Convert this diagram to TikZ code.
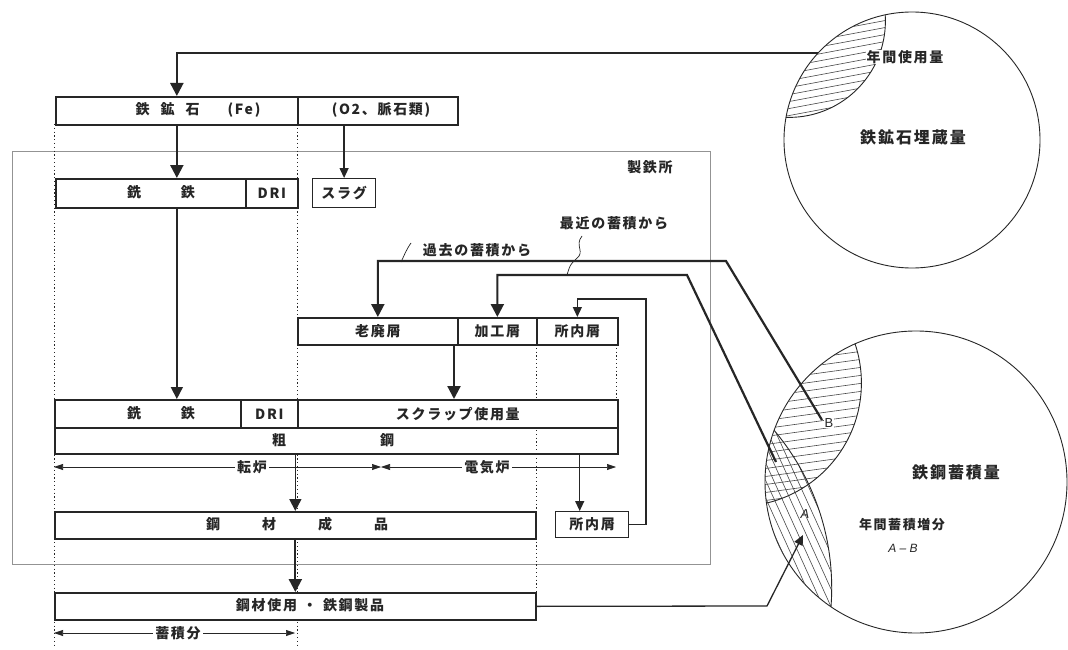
\documentclass[tikz,border=0pt]{standalone}
\usepackage{fontspec}
\newfontfamily\jp{Noto Sans CJK JP}[LetterSpace=12]
\newfontfamily\lsans{Liberation Sans}
\usetikzlibrary{arrows.meta,calc}
\definecolor{ink}{gray}{0.15}
\begin{document}
\begin{tikzpicture}[x=1pt,y=-1pt,
  font=\jp\bfseries\fontsize{14}{16}\selectfont,
  box/.style={draw=ink, line width=1.7pt, fill=white, inner sep=0pt, anchor=north west, text=ink},
  thinbox/.style={box, line width=1.2pt},
  guide/.style={draw=ink, line width=0.9pt, dash pattern=on 1.2pt off 2.6pt},
  frame/.style={draw=ink!50, line width=0.8pt},
  bigarrow/.style={draw=ink, line width=2.2pt, -{Triangle[width=13pt,length=13pt]}},
  medarrow/.style={draw=ink, line width=1.6pt, -{Triangle[width=12pt,length=12pt]}},
  midarrow/.style={draw=ink, line width=1.3pt, -{Triangle[width=9pt,length=10pt]}},
  dimline/.style={draw=ink, line width=0.6pt, -{Triangle[width=6pt,length=9pt]}},
  hatch/.style={draw=ink!85, line width=0.6pt},
  lbl/.style={inner sep=1pt, text=ink},
  wlbl/.style={lbl, fill=white, inner sep=2pt},
]
\fill[white] (0,0) rectangle (1068,650);
\useasboundingbox (0,0) rectangle (1068,650);

% plant frame
\draw[frame] (12,151) rectangle (710,564);
\node[lbl] (plant) at (650,167) {製鉄所};

% guide lines
\draw[guide] (54,124) -- (54,646);
\draw[guide] (297,124) -- (297,646);
\draw[guide] (536,344) -- (536,592);
\draw[guide] (616,344) -- (616,399);

% ---- boxes ----
\node[box, minimum width=242pt, minimum height=28pt] (oreFe) at (55,96) {};
\node[box, minimum width=160pt, minimum height=28pt] (oreO2) at (297,96) {};
\node[lbl] (tOreFe) at (198,110) {鉄\hspace{11pt}鉱\hspace{11pt}石\hspace{28pt}(Fe)};
\node[lbl] (tOreO2) at (381,110) {(O2、脈石類)};

\node[box, minimum width=190pt, minimum height=29pt] (pig) at (55,178) {};
\node[box, minimum width=52pt, minimum height=29pt] (dri) at (245,178) {DRI};
\node[thinbox, minimum width=63pt, minimum height=29pt] (slag) at (312,178) {スラグ};
\node[lbl] (tPig) at (161,192.5) {銑\hspace{40pt}鉄};

\node[box, minimum width=160pt, minimum height=27pt] (old) at (297,317) {老廃屑};
\node[box, minimum width=79pt, minimum height=27pt] (proc) at (457,317) {加工屑};
\node[box, minimum width=81pt, minimum height=27pt] (inh) at (536,317) {所内屑};

\node[box, minimum width=187pt, minimum height=28pt] (pig2) at (54,399) {};
\node[box, minimum width=57pt, minimum height=28pt] (dri2) at (240,399) {DRI};
\node[box, minimum width=320pt, minimum height=28pt] (scrapuse) at (297,399) {スクラップ使用量};
\node[box, minimum width=563pt, minimum height=26pt] (crude) at (54,427) {};
\node[lbl] (tPig2) at (161,413) {銑\hspace{40pt}鉄};
\node[lbl] (tCrude) at (333,440) {粗\hspace{94pt}鋼};
\draw[guide] (536,430) -- (536,451);

\node[box, minimum width=481pt, minimum height=27pt] (steel) at (54,511) {};
\node[lbl] (tSteel) at (297,524.5) {鋼\hspace{42pt}材\hspace{42pt}成\hspace{42pt}品};
\node[thinbox, minimum width=73pt, minimum height=26pt] (inh2) at (555,511) {所内屑};

\node[box, minimum width=481pt, minimum height=27pt] (use) at (54,592) {};
\node[lbl] (tUse) at (310,605.5) {鋼材使用\hspace{6pt}・\hspace{6pt}鉄鋼製品};

% ---- dimension lines ----
\coordinate (dL) at (54,467);
\coordinate (dM) at (381,467);
\coordinate (dR) at (616,467);
\draw[dimline] (252,467) -- (dL);
\draw[dimline] (252,467) -- (dM);
\draw[dimline] (487,467) -- (dM);
\draw[dimline] (487,467) -- (dR);
\node[wlbl] (tConv) at (252,467) {転炉};
\node[wlbl] (tEaf) at (487,467) {電気炉};
\coordinate (sL) at (54,633);
\coordinate (sR) at (295,633);
\draw[dimline] (178,633) -- (sL);
\draw[dimline] (178,633) -- (sR);
\node[wlbl] (tAcc) at (178,633) {蓄積分};

% ---- circles ----
\node[circle, draw=ink, line width=0.9pt, minimum size=256pt, inner sep=0pt] (oreRes) at (912,140) {};
\node[circle, draw=ink, line width=0.9pt, minimum size=302pt, inner sep=0pt] (stock) at (916,482) {};

% small lens (annual use)
\begin{scope}
  \clip (912,140) circle[radius=128];
  \clip (789,21) circle[radius=96.4];
  \foreach \i in {-40,-33,...,200} { \draw[hatch] (760,\i) -- (920,\i-30); }
\end{scope}
\begin{scope}
  \clip (912,140) circle[radius=128];
  \draw[ink, line width=0.9pt] (789,21) circle[radius=96.4];
\end{scope}

% lens B
\begin{scope}
  \clip (916,482) circle[radius=151];
  \clip (738,383) circle[radius=123.4];
  \foreach \i in {320,328,...,560} { \draw[hatch] (740,\i) -- (900,\i-22); }
\end{scope}
% lens A
\begin{scope}
  \clip (916,482) circle[radius=151];
  \clip (587,588) circle[radius=244.7];
  \foreach \i in {560,568,...,880} { \draw[hatch] (\i,380) -- (\i+110,622); }
\end{scope}
\begin{scope}
  \clip (916,482) circle[radius=151];
  \draw[ink, line width=0.9pt] (738,383) circle[radius=123.4];
  \draw[ink, line width=0.9pt] (587,588) circle[radius=244.7];
\end{scope}

\node[lbl, fill=white, inner sep=0.5pt] (tAnnUse) at (905,57) {年間使用量};
\node[lbl, font=\jp\bfseries\fontsize{16}{18}\selectfont] (tOreRes) at (913,137) {鉄鉱石埋蔵量};
\node[lbl, font=\jp\bfseries\fontsize{16}{18}\selectfont] (tStock) at (956,472) {鉄鋼蓄積量};
\node[lbl, font=\jp\bfseries\fontsize{13}{15}\selectfont] (tInc) at (902,525) {年間蓄積増分};
\node[lbl, font=\lsans\itshape\fontsize{12}{14}\selectfont] (tAB) at (903,548) {A – B};
\node[lbl, fill=white, inner sep=0.5pt, font=\lsans\fontsize{13}{15}\selectfont] (tB) at (829,423) {B};
\node[lbl, font=\lsans\itshape\fontsize{13}{15}\selectfont] (tA) at (805,514) {A};

\coordinate (oreUse) at (818,53);
\coordinate (Bpt) at (822,420);
\coordinate (Rpt) at (776,462);
\coordinate (Apt) at (803,535);
\coordinate (k1) at (726,261);
\coordinate (k2) at (687,275);
\coordinate (k3) at (646,299);
\coordinate (k4) at (767,606);
\coordinate (p1) at ($(proc.south west)+(-3,0)$);
\coordinate (p2) at ($(crude.south east)+(-39,0)$);

% ---- connectors ----
\draw[bigarrow] (oreUse) -| (oreFe.north);
\draw[bigarrow] (oreFe.south) -- (oreFe.south |- pig.north);
\draw[midarrow] (slag.north |- oreO2.south) -- (slag.north);
\draw[medarrow] (oreFe.south |- pig.south) -- (oreFe.south |- pig2.north);
\draw[bigarrow] (Bpt) -- (k1) -- (k1 -| old.north) -- (old.north);
\draw[bigarrow] (Rpt) -- (k2) -- (k2 -| proc.north) -- (proc.north);
\draw[midarrow] (inh2.east) -| (k3) -| (inh.north);
\draw[bigarrow] (p1) -- (p1 |- scrapuse.north);
\draw[midarrow] (p2) -- (p2 |- inh2.north);
\draw[medarrow] (steel.north |- crude.south) -- (steel.north);
\draw[bigarrow] (steel.south) -- (use.north);
\draw[midarrow] (use.east) -- (k4) -- (Apt);

% ---- leader labels ----
\node[lbl] (tPast) at (477,250) {過去の蓄積から};
\node[lbl] (tRecent) at (614,223) {最近の蓄積から};
\draw[ink, line width=0.7pt] (411,243) .. controls (406,250) and (404,256) .. (401,262);
\draw[ink, line width=0.7pt] (582,236) .. controls (574,246) and (586,252) .. (576,259) .. controls (570,265) .. (567,275);
\end{tikzpicture}
\end{document}
